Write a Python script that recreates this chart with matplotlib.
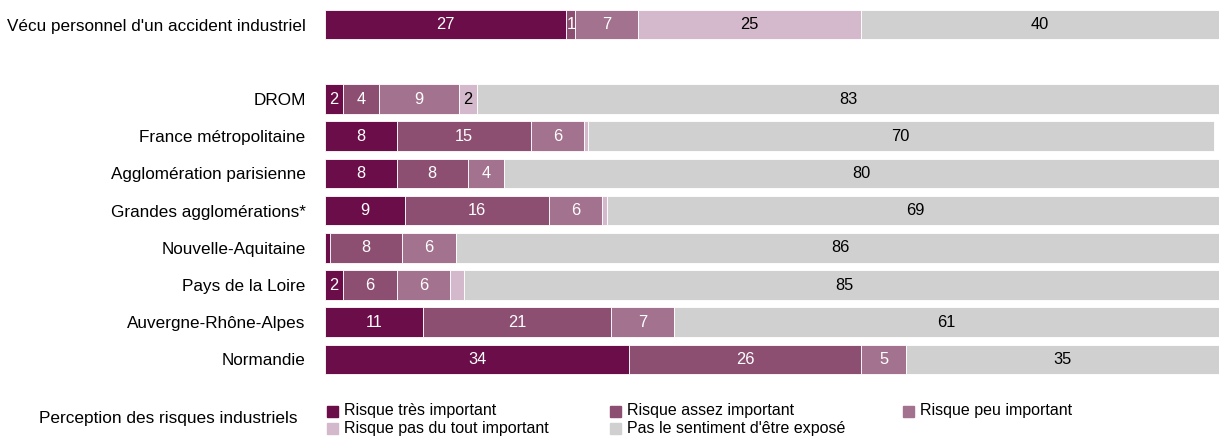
import matplotlib.pyplot as plt
from matplotlib.patches import Rectangle

plt.rcParams['font.family'] = ['Liberation Sans', 'DejaVu Sans']

# Perception of industrial risk, share of respondents (%)
groups = ["Vécu personnel d'un accident industriel", "DROM", "France métropolitaine",
          "Agglomération parisienne", "Grandes agglomérations*", "Nouvelle-Aquitaine",
          "Pays de la Loire", "Auvergne-Rhône-Alpes", "Normandie"]
tres_important = [27, 2, 8, 8, 9, 0.6, 2, 11, 34]
assez_important = [1, 4, 15, 8, 16, 8, 6, 21, 26]
peu_important = [7, 9, 6, 4, 6, 6, 6, 7, 5]
pas_important = [25, 2, 0.4, 0, 0.5, 0, 1.6, 0, 0]
pas_expose = [40, 83, 70, 80, 69, 86, 85, 61, 35]

series = [tres_important, assez_important, peu_important, pas_important, pas_expose]
names = ["Risque très important", "Risque assez important", "Risque peu important",
         "Risque pas du tout important", "Pas le sentiment d'être exposé"]
colors = ["#6a0d48", "#8c4f71", "#a3728f", "#d3b9cb", "#d0d0d0"]
text_colors = ["white", "white", "white", "black", "black"]

# first row stands apart from the regional breakdown
ypos = [0, 2, 3, 4, 5, 6, 7, 8, 9]

fig = plt.figure(figsize=(12.19, 4.38), dpi=100)
ax = fig.add_axes([325 / 1219, 1 - 378 / 438, 1 - 325 / 1219, 372 / 438])

left = [0.0] * len(groups)
for vals, col, tcol in zip(series, colors, text_colors):
    bars = ax.barh(ypos, vals, left=left, height=0.8, color=col,
                   edgecolor='white', linewidth=0.6)
    for b, v in zip(bars, vals):
        # only whole published values get a label, thin slivers stay unlabeled
        if v >= 1 and float(v).is_integer():
            ax.text(b.get_x() + b.get_width() / 2, b.get_y() + b.get_height() / 2,
                    f"{v:.0f}", ha='center', va='center', color=tcol, fontsize=11.8)
    left = [l + v for l, v in zip(left, vals)]

ax.set_xlim(0, 100)
ax.set_ylim(9.5, -0.5)
ax.set_yticks(ypos)
ax.set_yticklabels(groups, fontsize=12.3)
ax.tick_params(axis='y', length=0, pad=14)
ax.set_xticks([])
for s in ax.spines.values():
    s.set_visible(False)

# legend laid out in rows of three
fig.text(168 / 1219, 1 - 419 / 438, "Perception des risques industriels",
         ha='center', va='center', fontsize=12.4)
col_x = [327, 610, 903]
row_y = [411, 428]
for i, (name, col) in enumerate(zip(names, colors)):
    x = col_x[i % 3]
    y = row_y[i // 3]
    fig.patches.append(Rectangle((x / 1219, 1 - (y + 5.5) / 438), 11 / 1219, 11 / 438,
                                 transform=fig.transFigure, color=col))
    fig.text((x + 17) / 1219, 1 - y / 438, name, ha='left', va='center', fontsize=11.5)

fig.savefig('out.png', dpi=100)
